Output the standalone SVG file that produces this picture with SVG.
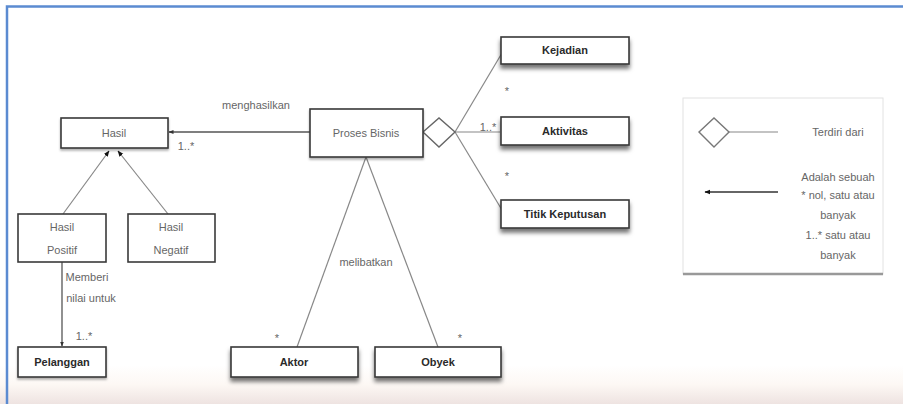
<svg xmlns="http://www.w3.org/2000/svg" width="903" height="404" viewBox="0 0 903 404">
<defs>
<linearGradient id="bg" x1="0" y1="0" x2="0" y2="1">
<stop offset="0" stop-color="#ffffff"/>
<stop offset="0.5" stop-color="#fdf8f4"/>
<stop offset="1" stop-color="#eee3e1"/>
</linearGradient>
<filter id="sh" x="-10%" y="-20%" width="120%" height="160%">
<feDropShadow dx="0" dy="4" stdDeviation="2" flood-color="#000" flood-opacity="0.55"/>
</filter>
<filter id="sh2" x="-10%" y="-20%" width="120%" height="160%">
<feDropShadow dx="0" dy="2" stdDeviation="1" flood-color="#000" flood-opacity="0.3"/>
</filter>
<marker id="ah" viewBox="0 0 10 10" refX="9" refY="5" markerWidth="6" markerHeight="6" orient="auto-start-reverse" markerUnits="userSpaceOnUse">
<path d="M0,1 L10,5 L0,9 z" fill="#111"/>
</marker>
<marker id="ahs" viewBox="0 0 10 10" refX="9" refY="5" markerWidth="5" markerHeight="5" orient="auto-start-reverse" markerUnits="userSpaceOnUse">
<path d="M0,1 L10,5 L0,9 z" fill="#333"/>
</marker>
</defs>
<style>
.box{fill:#fff;stroke:#3a3a3a;stroke-width:1.6}
.lg{fill:#fff;stroke:#555;stroke-width:1.3}
.t{font-family:"Liberation Sans","Open Sans",sans-serif;font-size:11px;fill:#666;text-anchor:middle}
.b{font-family:"Liberation Sans","Open Sans",sans-serif;font-size:11px;font-weight:bold;fill:#2a2a2a;text-anchor:middle}
.ln{stroke:#888;stroke-width:1.2;fill:none}
.dk{stroke:#555;stroke-width:1.3;fill:none}
</style>
<rect x="0" y="0" width="903" height="404" fill="#fff"/>
<rect x="0" y="365" width="903" height="39" fill="url(#bg)"/>
<path d="M7,404 V6.5 H903" fill="none" stroke="#5b8bd1" stroke-width="2.5"/>

<g id="connectors">
<line class="dk" x1="310" y1="132" x2="169" y2="132" marker-end="url(#ahs)"/>
<line class="ln" x1="63" y1="214" x2="109" y2="151" marker-end="url(#ah)"/>
<line class="ln" x1="168" y1="214" x2="118" y2="151" marker-end="url(#ah)"/>
<line class="dk" x1="62" y1="262" x2="62" y2="346" marker-end="url(#ahs)"/>
<line class="ln" x1="366" y1="157" x2="297" y2="347"/>
<line class="ln" x1="366" y1="157" x2="438" y2="347"/>
<line class="ln" x1="455" y1="132" x2="502" y2="53"/>
<line class="ln" x1="455" y1="132" x2="500" y2="132"/>
<line class="ln" x1="455" y1="132" x2="502" y2="210"/>
<polygon points="423,132 439,118 455,132 439,147" fill="#fff" stroke="#666" stroke-width="1.4"/>
<text class="t" x="256" y="109">menghasilkan</text>
<text class="t" x="186" y="150">1..*</text>
<text class="t" x="87" y="281">Memberi</text>
<text class="t" x="91" y="302">nilai untuk</text>
<text class="t" x="84" y="340">1..*</text>
<text class="t" x="366" y="266">melibatkan</text>
<text class="t" x="277" y="342">*</text>
<text class="t" x="460" y="342">*</text>
<text class="t" x="488" y="131">1..*</text>
<text class="t" x="507" y="95">*</text>
<text class="t" x="507" y="180">*</text>
</g>

<g id="hasil">
<rect class="box" x="61" y="118" width="107" height="30" filter="url(#sh2)"/>
<text class="t" x="114" y="137">Hasil</text>
</g>
<g id="proses-bisnis">
<rect class="box" x="310" y="109" width="113" height="48" filter="url(#sh2)"/>
<text class="t" x="366" y="137">Proses Bisnis</text>
</g>
<g id="hasil-positif">
<rect class="box" x="18" y="214" width="88" height="48"/>
<text class="t" x="62" y="231">Hasil</text>
<text class="t" x="62" y="254">Positif</text>
</g>
<g id="hasil-negatif">
<rect class="box" x="128" y="214" width="87" height="48"/>
<text class="t" x="171" y="231">Hasil</text>
<text class="t" x="171" y="254">Negatif</text>
</g>
<g id="pelanggan">
<rect class="box" x="18" y="347" width="88" height="30" filter="url(#sh2)"/>
<text class="b" x="62" y="366">Pelanggan</text>
</g>
<g id="aktor">
<rect class="box" x="231" y="347" width="127" height="30" filter="url(#sh)"/>
<text class="b" x="294" y="366">Aktor</text>
</g>
<g id="obyek">
<rect class="box" x="375" y="347" width="126" height="30" filter="url(#sh)"/>
<text class="b" x="438" y="366">Obyek</text>
</g>
<g id="kejadian">
<rect class="box" x="501" y="37" width="128" height="27" filter="url(#sh)"/>
<text class="b" x="565" y="54">Kejadian</text>
</g>
<g id="aktivitas">
<rect class="box" x="501" y="117" width="128" height="28" filter="url(#sh)"/>
<text class="b" x="565" y="135">Aktivitas</text>
</g>
<g id="titik-keputusan">
<rect class="box" x="501" y="200" width="128" height="28" filter="url(#sh)"/>
<text class="b" x="565" y="218">Titik Keputusan</text>
</g>

<g id="legend">
<rect x="683" y="98" width="200" height="176" fill="#fff" stroke="#e2e2e2" stroke-width="1"/>
<line x1="683" y1="274" x2="883" y2="274" stroke="#999" stroke-width="2.5"/>
<polygon points="699,132 714,118 729,132 714,147" fill="#fff" stroke="#777" stroke-width="1.4"/>
<line class="ln" x1="729" y1="132" x2="778" y2="132" stroke="#aaa"/>
<text class="t" x="838" y="136">Terdiri dari</text>
<line x1="778" y1="192" x2="705" y2="192" stroke="#333" stroke-width="1.6" marker-end="url(#ah)"/>
<text class="t" x="838" y="181">Adalah sebuah</text>
<text class="t" x="838" y="199">* nol, satu atau</text>
<text class="t" x="838" y="219">banyak</text>
<text class="t" x="838" y="239">1..* satu atau</text>
<text class="t" x="838" y="259">banyak</text>
</g>
</svg>
